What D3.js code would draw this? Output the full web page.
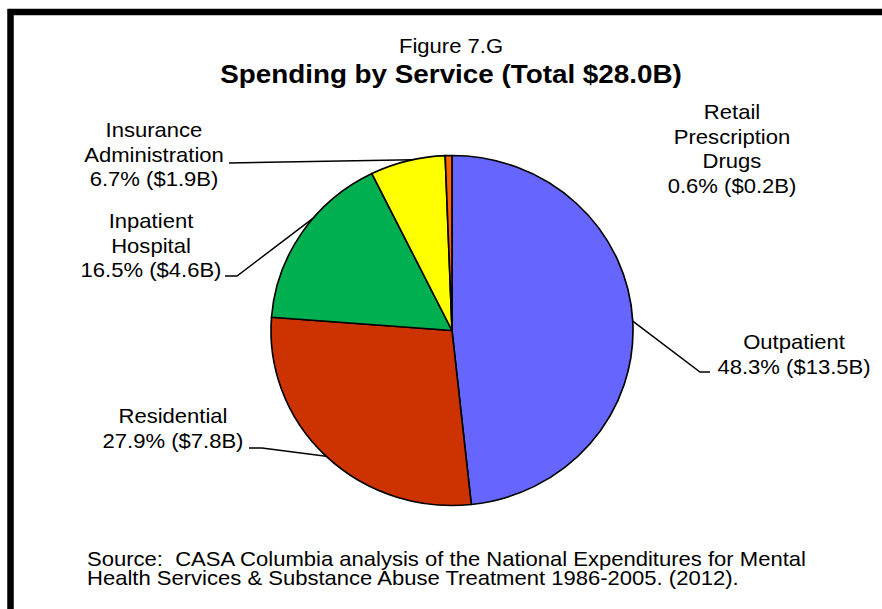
<!DOCTYPE html>
<html>
<head>
<meta charset="utf-8">
<script src="https://cdn.jsdelivr.net/npm/d3@7"></script>
<style>
  html, body { margin: 0; padding: 0; background: #fff; }
  svg { display: block; }
  text { font-family: "Liberation Sans", Arial, sans-serif; fill: #000; white-space: pre; }
</style>
</head>
<body>
<svg id="chart" width="882" height="609"></svg>
<script>
// ---- data ----
const categories = ["Outpatient", "Residential", "Inpatient Hospital", "Insurance Administration", "Retail Prescription Drugs"];
const percents = [48.3, 27.9, 16.5, 6.7, 0.6];
const dollars = ["$13.5B", "$7.8B", "$4.6B", "$1.9B", "$0.2B"];
const labelLines = [["Outpatient"], ["Residential"], ["Inpatient", "Hospital"], ["Insurance", "Administration"], ["Retail", "Prescription", "Drugs"]];
const colors = ["#6666FF", "#CC3300", "#00B050", "#FFFF00", "#FF6600"];
const figureLabel = "Figure 7.G";
const title = "Spending by Service (Total $28.0B)";
const sourceLines = ["Source:  CASA Columbia analysis of the National Expenditures for Mental",
                     "Health Services & Substance Abuse Treatment 1986-2005. (2012)."];

// ---- layout ----
const svg = d3.select("#chart");
const W = 882, H = 609;
const cx = 452, cy = 330.5, r = 175, sx = 181 / 175;
const textSX = 1.05;

// border frame
svg.append("rect").attr("x", 10.5).attr("y", 12).attr("width", W + 20).attr("height", H + 20)
  .attr("fill", "none").attr("stroke", "#000").attr("stroke-width", 6.5);

function stretchedText(x, y, str, size, weight, anchor) {
  return svg.append("text")
    .attr("transform", `translate(${x},${y}) scale(${textSX},1)`)
    .attr("text-anchor", anchor || "middle")
    .attr("font-size", size)
    .attr("font-weight", weight || "normal")
    .text(str);
}

stretchedText(451, 53, figureLabel, 21);
stretchedText(451, 83, title, 26.5, "bold");

// pie
const pie = d3.pie().sort(null).value(d => d)(percents);
const arc = d3.arc().innerRadius(0).outerRadius(r);
const g = svg.append("g").attr("transform", `translate(${cx},${cy}) scale(${sx},1)`);
g.selectAll("path").data(pie).join("path")
  .attr("d", arc)
  .attr("fill", (d, i) => colors[i])
  .attr("stroke", "#000")
  .attr("stroke-width", 1.6)
  .attr("stroke-linejoin", "round");

// labels
const labelPos = [
  { x: 794, y: 349 },   // Outpatient
  { x: 173, y: 423 },   // Residential
  { x: 151, y: 228 },   // Inpatient
  { x: 154, y: 137 },   // Insurance
  { x: 732, y: 119 }    // Retail
];
const lineH = 24.5;
labelLines.forEach((lines, i) => {
  const all = lines.concat([`${percents[i].toFixed(1)}% (${dollars[i]})`]);
  all.forEach((t, k) => stretchedText(labelPos[i].x, labelPos[i].y + k * lineH, t, 21));
});

// leader lines: from a point on the slice edge (computed from the arc angle) to the label
function edgePoint(i, frac) {
  const d = pie[i];
  const a = d.startAngle + (d.endAngle - d.startAngle) * frac;
  return [cx + r * sx * Math.sin(a), cy - r * Math.cos(a)];
}
const leaders = [
  { i: 0, frac: 0.50, pts: [[700, 372], [710, 372]] },
  { i: 1, frac: 0.50, pts: [[262, 448], [249, 448]] },
  { i: 2, frac: 0.60, pts: [[237, 276], [225, 276]] },
  { i: 3, frac: 0.57, pts: [[229, 163]] }
];
leaders.forEach(l => {
  const p0 = edgePoint(l.i, l.frac);
  svg.append("path")
    .attr("d", d3.line()([p0].concat(l.pts)))
    .attr("fill", "none").attr("stroke", "#000").attr("stroke-width", 1.5);
});

// source
sourceLines.forEach((t, k) => stretchedText(87, 566 + k * 18.5, t, 21, "normal", "start"));
</script>
</body>
</html>
